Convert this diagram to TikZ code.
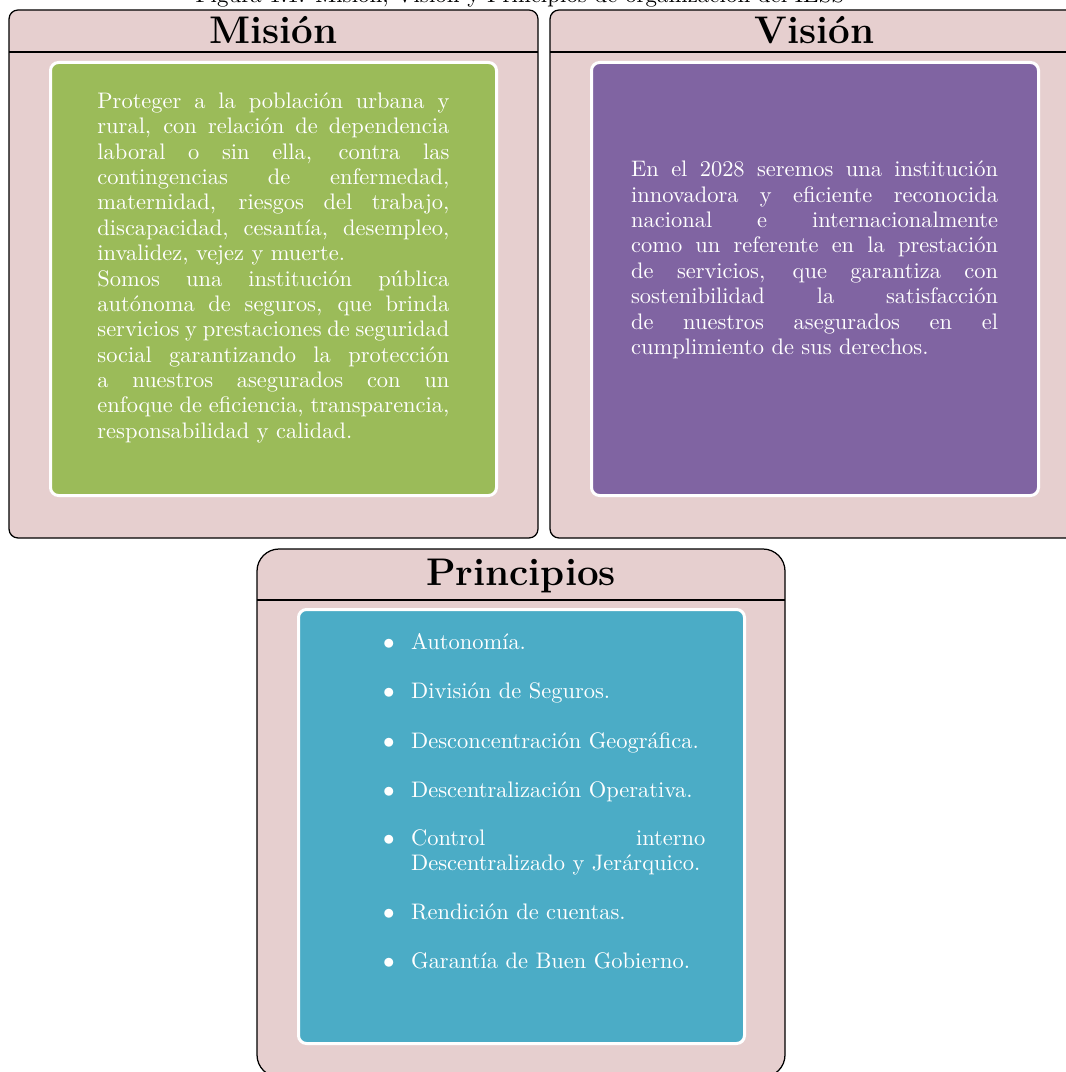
\documentclass[tikz,border=0pt]{standalone}
\usepackage{fontspec}
\definecolor{pinkbg}{HTML}{E6CFCF}
\definecolor{greenbox}{HTML}{9BBB59}
\definecolor{purplebox}{HTML}{8064A2}
\definecolor{bluebox}{HTML}{4BACC6}
\newcommand{\bodyfont}{\fontsize{10.67pt}{12.06pt}\selectfont}
\tikzset{
  outerbox/.style={fill=pinkbg, draw=black, line width=0.6pt},
  sepline/.style={draw=black, line width=0.6pt},
  innerbox/.style={draw=white, line width=1.425pt, rounded corners=3.8pt},
  bodytext/.style={text=white, inner sep=0pt, anchor=base west, font=\bodyfont},
  bullettext/.style={text=white, inner sep=0pt, anchor=base, font=\bodyfont},
  titletext/.style={font=\fontsize{18.3pt}{22pt}\selectfont\bfseries, anchor=base, inner sep=0pt},
}
\begin{document}
\begin{tikzpicture}[x=0.475pt, y=-0.475pt]
\useasboundingbox (0,0) rectangle (1066,1072);
% caption (cut by the page top, as in the reference)
\node[anchor=base, inner sep=0pt, font=\fontsize{10.9pt}{13pt}\selectfont] (cap) at (520,2.7) {Figura 1.1: Misión, Visión y Principios de organización del IESS};

% Mision
\draw[outerbox, rounded corners=4.3pt] (9,10) rectangle (538,538);
\draw[sepline] (9,52) -- (538,52);
\node[titletext] (mtitle) at (273.5,43.5) {Misión};
\draw[innerbox, fill=greenbox] (50.5,62.5) rectangle (496.5,495.5);
\node[bodytext] (mtext) at (97,108.3) {\parbox[t]{167.2pt}{\bodyfont\hbadness=10000
Proteger a la población urbana y\linebreak
rural, con relación de dependencia\linebreak
laboral o sin ella, contra las\linebreak
contingencias de enfermedad,\linebreak
maternidad, riesgos del trabajo,\linebreak
discapacidad, cesantía, desempleo,\linebreak
invalidez, vejez y muerte.\par
Somos una institución pública\linebreak
autónoma de seguros, que brinda\linebreak
servicios y prestaciones de seguridad\linebreak
social garantizando la protección\linebreak
a nuestros asegurados con un\linebreak
enfoque de eficiencia, transparencia,\linebreak
responsabilidad y calidad.}};

% Vision
\draw[outerbox, rounded corners=4.3pt] (550,10) rectangle (1079,538);
\draw[sepline] (550,52) -- (1079,52);
\node[titletext] (vtitle) at (814.5,43.5) {Visión};
\draw[innerbox, fill=purplebox] (591.5,62.5) rectangle (1038.5,495.5);
\node[bodytext] (vtext) at (630.7,176.7) {\parbox[t]{174.3pt}{\bodyfont\hbadness=10000
En el 2028 seremos una institución\linebreak
innovadora y eficiente reconocida\linebreak
nacional e internacionalmente\linebreak
como un referente en la prestación\linebreak
de servicios, que garantiza con\linebreak
sostenibilidad la satisfacción\linebreak
de nuestros asegurados en el\linebreak
cumplimiento de sus derechos.}};

% Principios
\draw[outerbox, rounded corners=10.5pt] (257,549) rectangle (785,1077);
\draw[sepline] (257,600) -- (785,600);
\node[titletext] (ptitle) at (521,585) {Principios};
\draw[innerbox, fill=bluebox] (298.5,609.5) rectangle (744.5,1043.5);

\node[bullettext] (b1) at (389,649) {$\bullet$};
\node[bodytext] (p1) at (410.7,649) {Autonomía.};
\node[bullettext] (b2) at (389,698) {$\bullet$};
\node[bodytext] (p2) at (410.7,698) {División de Seguros.};
\node[bullettext] (b3) at (389,748) {$\bullet$};
\node[bodytext] (p3) at (410.7,748) {Desconcentración Geográfica.};
\node[bullettext] (b4) at (389,797) {$\bullet$};
\node[bodytext] (p4) at (410.7,797) {Descentralización Operativa.};
\node[bullettext] (b5) at (389,845.5) {$\bullet$};
\node[bodytext] (p5) at (410.7,845.5) {\parbox[t]{139.8pt}{\bodyfont\hbadness=10000
Control interno\linebreak
Descentralizado y Jerárquico.}};
\node[bullettext] (b6) at (389,919) {$\bullet$};
\node[bodytext] (p6) at (410.7,919) {Rendición de cuentas.};
\node[bullettext] (b7) at (389,968) {$\bullet$};
\node[bodytext] (p7) at (410.7,968) {Garantía de Buen Gobierno.};
\end{tikzpicture}
\end{document}
